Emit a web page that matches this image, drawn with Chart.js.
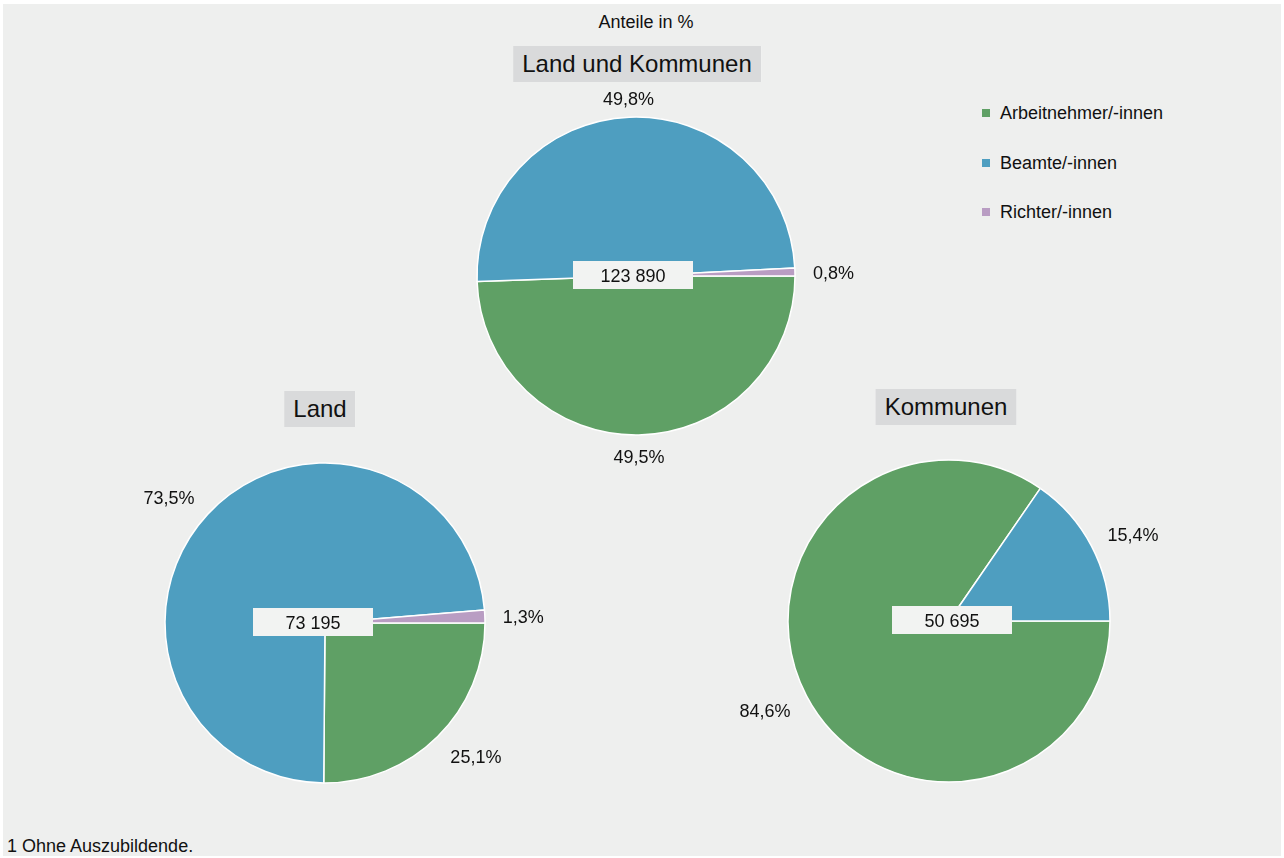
<!DOCTYPE html>
<html>
<head>
<meta charset="utf-8">
<script src="https://cdn.jsdelivr.net/npm/chart.js@4"></script>
<style>
  html, body { margin: 0; padding: 0; background: #fff; }
  body { font-family: "Liberation Sans", Arial, sans-serif; color: #111; }
  #wrap { position: relative; width: 1284px; height: 858px; overflow: hidden; }
  #panel { position: absolute; left: 3px; top: 4px; width: 1278px; height: 852px; background: #eeefee; }
  canvas { position: absolute; }
  .title { position: absolute; background: #d9dadb; font-size: 24px; line-height: 36px; height: 36px; padding: 0 9px; transform: translateX(-50%); white-space: nowrap; z-index: 2; }
  .txt { position: absolute; font-size: 18px; white-space: nowrap; }
  .leg { position: absolute; left: 982px; font-size: 18px; white-space: nowrap; }
  .leg i { display: inline-block; width: 8px; height: 8px; margin-right: 10px; vertical-align: 2px; }
</style>
</head>
<body>
<div id="wrap">
  <div id="panel"></div>
  <div class="txt" style="left:646px; top:12px; transform:translateX(-50%);">Anteile in %</div>
  <div class="txt" style="left:7px; top:836px;">1 Ohne Auszubildende.</div>
</div>
<script>
const categories = ['Arbeitnehmer/-innen', 'Beamte/-innen', 'Richter/-innen'];
const colors = ['#5fa065', '#4e9ec0', '#b99dc3'];

const pieTitles = ['Land und Kommunen', 'Land', 'Kommunen'];
const totals = ['123 890', '73 195', '50 695'];
const landUndKommunen = [49.5, 49.8, 0.8];
const land = [25.1, 73.5, 1.3];
const kommunen = [84.6, 15.4, 0];

const wrap = document.getElementById('wrap');

// legend
categories.forEach((name, i) => {
    const d = document.createElement('div');
    d.className = 'leg';
    d.style.top = (103 + i * 49.5) + 'px';
    d.innerHTML = '<i style="background:' + colors[i] + '"></i>' + name;
    wrap.appendChild(d);
});

// percent labels outside + center box with total
const labelPlugin = {
    id: 'pieLabels',
    afterDatasetsDraw(chart) {
        const ctx = chart.ctx;
        const meta = chart.getDatasetMeta(0);
        const values = chart.data.datasets[0].data;
        const opts = chart.options.plugins.pieLabels;
        ctx.save();
        ctx.font = '18px "Liberation Sans", Arial, sans-serif';
        ctx.fillStyle = '#111';
        ctx.textBaseline = 'middle';
        meta.data.forEach((arc, i) => {
            if (!values[i]) return;
            const a = (arc.startAngle + arc.endAngle) / 2;
            const d = arc.outerRadius + 18;
            const c = Math.cos(a), s = Math.sin(a);
            const x = arc.x + d * c;
            const y = arc.y + d * s + 9 * s * Math.abs(c) + 3 + 2 * s;
            ctx.textAlign = c > 0.3 ? 'left' : (c < -0.3 ? 'right' : 'center');
            ctx.fillText(values[i].toFixed(1).replace('.', ',') + '%', x, y);
        });
        const arc0 = meta.data[0];
        const bx = arc0.x + opts.boxDx;
        ctx.fillStyle = '#f2f3f2';
        ctx.fillRect(bx - 60, arc0.y - 15, 120, 28);
        ctx.fillStyle = '#111';
        ctx.textAlign = 'center';
        ctx.fillText(opts.total, bx, arc0.y + 1);
        ctx.restore();
    }
};

function makePie(values, title, total, cx, cy, r, titleX, titleY, boxDx) {
    const w = 480, h = 440;
    const cv = document.createElement('canvas');
    cv.width = w; cv.height = h;
    cv.style.left = (cx - w / 2) + 'px';
    cv.style.top = (cy - h / 2) + 'px';
    cv.style.width = w + 'px';
    cv.style.height = h + 'px';
    wrap.appendChild(cv);

    const t = document.createElement('div');
    t.className = 'title';
    t.style.left = titleX + 'px';
    t.style.top = titleY + 'px';
    t.textContent = title;
    wrap.appendChild(t);

    new Chart(cv.getContext('2d'), {
        type: 'pie',
        data: {
            labels: categories,
            datasets: [{
                data: values,
                backgroundColor: colors,
                borderColor: '#ffffff',
                borderWidth: 1.5,
                radius: r
            }]
        },
        options: {
            responsive: false,
            animation: false,
            rotation: 90,
            layout: { padding: 0 },
            plugins: {
                legend: { display: false },
                tooltip: { enabled: false },
                pieLabels: { total: total, boxDx: boxDx }
            }
        },
        plugins: [labelPlugin]
    });
}

makePie(landUndKommunen, pieTitles[0], totals[0], 636, 276, 159, 637, 46, -3);
makePie(land, pieTitles[1], totals[1], 325, 623, 160, 320, 391, -12);
makePie(kommunen, pieTitles[2], totals[2], 949, 621, 161, 946, 389, 3);
</script>
</body>
</html>
